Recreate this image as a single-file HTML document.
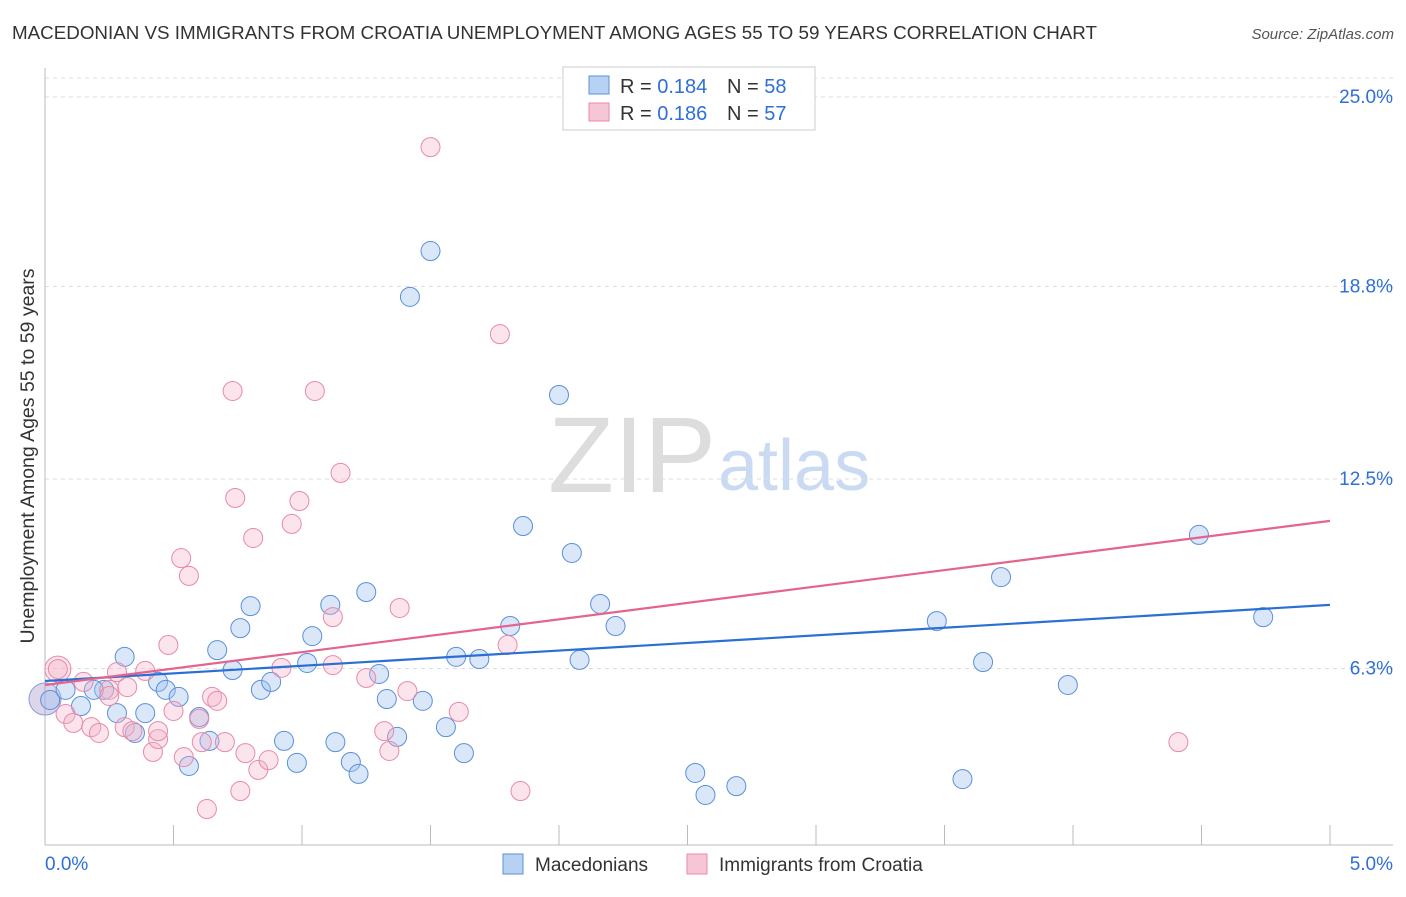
<!DOCTYPE html>
<html><head><meta charset="utf-8"><style>
body{margin:0;background:#fff;font-family:"Liberation Sans",sans-serif;}
svg text{font-family:"Liberation Sans",sans-serif;}
</style></head><body>
<svg id="chart" width="1406" height="892" xmlns="http://www.w3.org/2000/svg">
<text x="12" y="39" font-size="18.8" fill="#333">MACEDONIAN VS IMMIGRANTS FROM CROATIA UNEMPLOYMENT AMONG AGES 55 TO 59 YEARS CORRELATION CHART</text>
<text x="1394" y="39" font-size="15" fill="#555" font-style="italic" text-anchor="end">Source: ZipAtlas.com</text>
<text x="716" y="492" font-size="108" fill="#ddd" text-anchor="end" font-family="Liberation Serif">ZIP</text>
<text x="718" y="490" font-size="72" fill="#c9daf2">atlas</text>
<g id="grid"></g>
<g id="marks"></g>
<text transform="translate(34,456) rotate(-90)" font-size="19.5" fill="#333" text-anchor="middle">Unemployment Among Ages 55 to 59 years</text>
<g>
<rect x="563" y="67" width="252" height="63" fill="#fff" stroke="#ccc"/>
<rect x="589" y="76" width="20" height="18" fill="#b7d1f3" stroke="#5b8fdb"/>
<text x="620" y="93" font-size="20" fill="#333">R = <tspan fill="#2f6fd6">0.184</tspan></text>
<text x="727" y="93" font-size="20" fill="#333">N = <tspan fill="#2f6fd6">58</tspan></text>
<rect x="589" y="103" width="20" height="18" fill="#f7c6d6" stroke="#e88aa8"/>
<text x="620" y="120" font-size="20" fill="#333">R = <tspan fill="#2f6fd6">0.186</tspan></text>
<text x="727" y="120" font-size="20" fill="#333">N = <tspan fill="#2f6fd6">57</tspan></text>
</g>
<g>
<rect x="503" y="854" width="20" height="20" fill="#b7d1f3" stroke="#5b8fdb"/>
<text x="535" y="871" font-size="19" fill="#333">Macedonians</text>
<rect x="687" y="854" width="20" height="20" fill="#f7c6d6" stroke="#e88aa8"/>
<text x="719" y="871" font-size="19" fill="#333">Immigrants from Croatia</text>
</g>
</svg>
<script>
const yTicks=[25.0,18.8,12.5,6.3];
const yTickLabels=["25.0%","18.8%","12.5%","6.3%"];
const xTickLabels=["0.0%","5.0%"];
const blueX=[0.02,0.08,0.14,0.23,0.28,0.31,0.35,0.39,0.44,0.47,0.52,0.56,0.60,0.64,0.67,0.73,0.76,0.80,0.84,0.88,0.93,0.98,1.02,1.04,1.11,1.13,1.19,1.22,1.25,1.30,1.33,1.37,1.42,1.47,1.50,1.56,1.60,1.63,1.69,1.81,1.86,2.00,2.05,2.08,2.16,2.22,2.53,2.57,2.69,3.47,3.57,3.65,3.72,3.98,4.49,4.74,0.19];
const blueY=[5.27,5.60,5.07,5.60,4.84,6.68,4.19,4.84,5.86,5.60,5.37,3.11,4.71,3.93,6.90,6.25,7.62,8.34,5.60,5.86,3.93,3.21,6.48,7.36,8.38,3.89,3.24,2.85,8.80,6.12,5.30,4.06,18.46,5.24,19.96,4.38,6.68,3.53,6.61,7.69,10.96,15.25,10.08,6.58,8.41,7.69,2.88,2.16,2.45,7.85,2.68,6.51,9.29,5.76,10.67,7.98,5.60];
const pinkX=[0.05,0.08,0.11,0.15,0.18,0.21,0.25,0.28,0.31,0.32,0.34,0.39,0.42,0.44,0.44,0.48,0.50,0.53,0.54,0.56,0.60,0.61,0.63,0.65,0.67,0.70,0.73,0.74,0.76,0.78,0.81,0.83,0.87,0.92,0.96,0.99,1.05,1.12,1.12,1.15,1.25,1.32,1.34,1.38,1.41,1.50,1.61,1.77,1.80,1.85,4.41,0.25];
const pinkY=[6.28,4.81,4.52,5.86,4.38,4.19,5.60,6.18,4.38,5.69,4.25,6.22,3.57,3.99,4.25,7.07,4.91,9.91,3.40,9.33,4.65,3.89,1.70,5.37,5.24,3.89,15.38,11.88,2.29,3.53,10.57,2.98,3.30,6.32,11.03,11.78,15.38,6.41,7.98,12.70,5.99,4.25,3.60,8.28,5.56,23.36,4.88,17.24,7.07,2.29,3.89,5.40];
const blueTrend=[5.89,8.38];
const pinkTrend=[5.76,11.13];
const NS="http://www.w3.org/2000/svg";
const xs=v=>45+v*257, ys=v=>861-v*30.56;
const grid=document.getElementById('grid'), marks=document.getElementById('marks');
function mk(tag,attrs,parent){const e=document.createElementNS(NS,tag);for(const k in attrs)e.setAttribute(k,attrs[k]);parent.appendChild(e);return e;}
let g=mk('line',{x1:45,y1:78,x2:1393,y2:78,stroke:'#ddd','stroke-dasharray':'4,4'},grid);


yTicks.forEach((t,i)=>{
 const l=mk('line',{x1:45,y1:ys(t),x2:1393,y2:ys(t),stroke:'#ddd','stroke-dasharray':'4,4'},grid);
 
 
 const tx=mk('text',{x:1393,y:ys(t)+6,'font-size':19,fill:'#2f6fd6','text-anchor':'end'},grid);
 tx.textContent=yTickLabels[i];
 
 
});
let a=mk('line',{x1:45,y1:68,x2:45,y2:845,stroke:'#bbb'},grid);


a=mk('line',{x1:45,y1:845,x2:1393,y2:845,stroke:'#bbb'},grid);


for(let i=0;i<=10;i++){const t=mk('line',{x1:xs(i*0.5),y1:825,x2:xs(i*0.5),y2:845,stroke:'#bbb'},grid);
 
 }
[[0,'start',45],[5,'end',1393]].forEach((d,i)=>{const t=mk('text',{x:d[2],y:870,'font-size':19,fill:'#2f6fd6','text-anchor':d[1]},grid);t.textContent=xTickLabels[i];
 
 });
function dot(x,y,r,fill,stroke,name){const c=mk('circle',{cx:xs(x),cy:ys(y),r:r,fill:fill,stroke:stroke,'stroke-width':1},marks);
 
 }
dot(0,5.3,16,'rgba(170,150,200,0.4)','#8b9bd8','blue-point-large');
dot(0.05,6.28,13,'rgba(244,178,200,0.35)','#e88aa8','pink-point-large');
blueX.forEach((x,i)=>dot(x,blueY[i],9.5,'rgba(160,196,240,0.4)','#5b8fdb','blue-point'));
pinkX.forEach((x,i)=>dot(x,pinkY[i],9.5,'rgba(244,178,200,0.35)','#e88aa8','pink-point'));
let tl=mk('line',{x1:xs(0),y1:ys(blueTrend[0]),x2:xs(5),y2:ys(blueTrend[1]),stroke:'#2a6fd6','stroke-width':2.2},marks);


tl=mk('line',{x1:xs(0),y1:ys(pinkTrend[0]),x2:xs(5),y2:ys(pinkTrend[1]),stroke:'#e4648d','stroke-width':2.2},marks);


</script>
</body></html>
